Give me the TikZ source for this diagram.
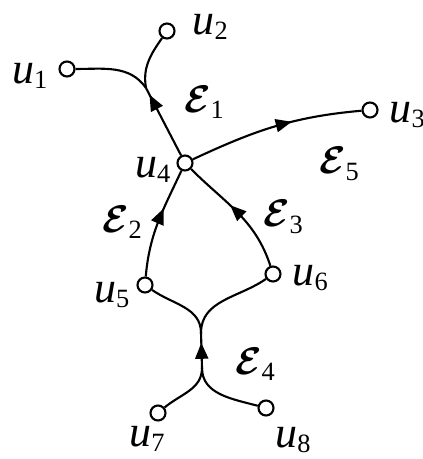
\documentclass[tikz,border=0pt]{standalone}
\usepackage{amsmath}
\usepackage{fontspec}
\setmainfont{Liberation Serif}[ItalicFont={Liberation Serif Italic}]
\usetikzlibrary{positioning,arrows.meta,decorations.markings}
\tikzset{vert/.style={circle,draw,fill=white,minimum size=0.15cm,
inner sep=0pt,line width=0.6pt},
vlab/.style={inner sep=0pt,font=\fontsize{12.5}{12}\selectfont},
elab/.style={inner sep=0pt,font=\fontsize{11}{11}\selectfont},
midarrow/.style={postaction={decorate},decoration={markings,
mark=at position #1 with {\arrow{Triangle[length=0.16cm,width=0.13cm]}}}}}
\newcommand{\vu}[1]{\textit{u}\raisebox{-1.3pt}{\fontsize{7.5}{7}\selectfont #1}}
\newcommand{\ee}[1]{$\boldsymbol{\mathcal{E}}$\raisebox{-1.8pt}{\fontsize{7.5}{7}\selectfont #1}}

\begin{document}
\begin{tikzpicture}[x=0.01cm,y=-0.01cm,line width=0.6pt]
\useasboundingbox (0,0) rectangle (422,459);
\node[vert] (u1) at (67,69) {};
\node[vert] (u2) at (167,31) {};
\node[vert] (u3) at (370,110) {};
\node[vert] (u4) at (185,163) {};
\node[vert] (u5) at (145,285) {};
\node[vert] (u6) at (273,274) {};
\node[vert] (u7) at (158,413) {};
\node[vert] (u8) at (266,408) {};
\coordinate (j1) at (146,88);
\coordinate (ja) at (201,333);
\coordinate (jb) at (202,368);

\node[vlab] (l1) [left=0.1cm of u1,yshift=-0.07cm] {\vu{1}};
\node[vlab] (l2) [right=0.16cm of u2,yshift=0.04cm] {\vu{2}};
\node[vlab] (l3) [right=0.1cm of u3,yshift=-0.05cm] {\vu{3}};
\node[vlab] (l4) [left=0.05cm of u4,yshift=-0.07cm] {\vu{4}};
\node[vlab] (l5) [left=0.06cm of u5,yshift=-0.1cm] {\vu{5}};
\node[vlab] (l6) [right=0.1cm of u6,yshift=-0.04cm] {\vu{6}};
\node[vlab] (l7) [below=0.04cm of u7,xshift=-0.11cm] {\vu{7}};
\node[vlab] (l8) [below=0.1cm of u8,xshift=0.27cm] {\vu{8}};

\node[elab] (e1) at (204,102) {\ee{1}};
\node[elab] (e2) at (122,222) {\ee{2}};
\node[elab] (e3) at (283,217) {\ee{3}};
\node[elab] (e4) at (255,364) {\ee{4}};
\node[elab] (e5) at (339,164) {\ee{5}};

% hyperedges
\draw[midarrow=0.9] (u4) -- (j1);
\draw (u1) to[out=0,in=125] (j1);
\draw (u2) to[out=235,in=100] (j1);
\draw[midarrow=0.6] (u4) to[out=25,in=185] (u3);
\draw[midarrow=0.63] (u5) to[out=85,in=245] (u4);
\draw[midarrow=0.58] (u6) to[out=108,in=-45] (u4);
\draw[midarrow=0.72] (jb) -- (ja);
\draw (u5) to[out=-35,in=90] (ja);
\draw (u6) to[out=215,in=90] (ja);
\draw (u7) to[out=40,in=-90] (jb);
\draw (u8) to[out=165,in=-90] (jb);
\end{tikzpicture}
\end{document}
